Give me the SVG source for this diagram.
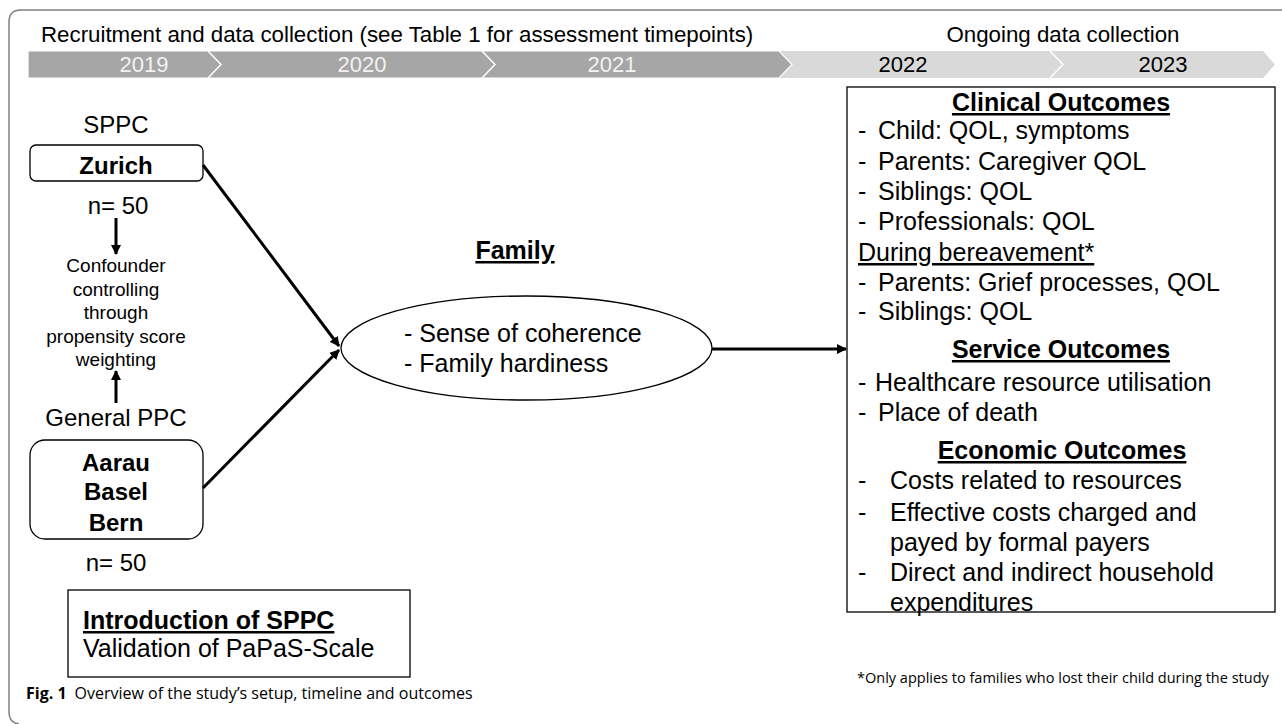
<svg xmlns="http://www.w3.org/2000/svg" width="1282" height="724" viewBox="0 0 1282 724">
<style>
  text { font-family: "Liberation Sans", Arial, sans-serif; fill: #000; }
  .hdr { font-size: 22.3px; }
  .yr { font-size: 22px; }
  .yw { fill: #f2f2f2; }
  .b24 { font-size: 24px; font-weight: bold; }
  .r24 { font-size: 24px; }
  .r19 { font-size: 19px; }
  .r25 { font-size: 25px; }
  .b25 { font-size: 25px; font-weight: bold; }
  .ul { text-decoration: underline; }
  .box { fill: #fff; stroke: #000; stroke-width: 1.3; }
  .con { stroke: #000; stroke-width: 3; fill: none; }
  .cap { font-family: "Open Sans", "Noto Sans", sans-serif; font-size: 16px; }
  .fn { font-family: "Open Sans", "Noto Sans", sans-serif; font-size: 14.5px; }
</style>
<defs>
  <marker id="ah" viewBox="0 0 10 10" refX="9" refY="5" markerWidth="10" markerHeight="10" markerUnits="userSpaceOnUse" orient="auto">
    <path d="M0,0 L10,5 L0,10 z" fill="#000"/>
  </marker>
</defs>
<rect width="1282" height="724" fill="#fff"/>
<path d="M1282 10 H21 Q9 10 9 22 V712 Q9 723 19 724" fill="none" stroke="#808080" stroke-width="1.5"/>

<g id="timeline">
  <text class="hdr" x="41" y="42">Recruitment and data collection (see Table 1 for assessment timepoints)</text>
  <text class="hdr" x="1063" y="42" text-anchor="middle">Ongoing data collection</text>
  <polygon points="28,51 1263,51 1275,64.5 1263,78 28,78" fill="#d9d9d9"/>
  <polygon points="28,51 779,51 792,64.5 779,78 28,78" fill="#a6a6a6" stroke="#fff" stroke-width="1.2"/>
  <polyline points="208,51 221,64.5 208,78" fill="none" stroke="#fff" stroke-width="1.5"/>
  <polyline points="482,51 495,64.5 482,78" fill="none" stroke="#fff" stroke-width="1.5"/>
  <polyline points="1050,51 1063,64.5 1050,78" fill="none" stroke="#fff" stroke-width="1.5"/>
  <text class="yr yw" x="144" y="72" text-anchor="middle">2019</text>
  <text class="yr yw" x="362" y="72" text-anchor="middle">2020</text>
  <text class="yr yw" x="612" y="72" text-anchor="middle">2021</text>
  <text class="yr" x="903" y="72" text-anchor="middle">2022</text>
  <text class="yr" x="1163" y="72" text-anchor="middle">2023</text>
</g>

<g id="sppc">
  <text class="r24" x="116" y="133" text-anchor="middle">SPPC</text>
  <rect class="box" x="30" y="145" width="173" height="36" rx="6"/>
  <text class="b24" x="116" y="174" text-anchor="middle">Zurich</text>
  <text class="r24" x="118" y="214" text-anchor="middle">n= 50</text>
</g>

<g id="confounder">
  <text class="r19" x="116" y="272" text-anchor="middle">Confounder</text>
  <text class="r19" x="116" y="296" text-anchor="middle">controlling</text>
  <text class="r19" x="116" y="319" text-anchor="middle">through</text>
  <text class="r19" x="116" y="343" text-anchor="middle">propensity score</text>
  <text class="r19" x="116" y="366" text-anchor="middle">weighting</text>
</g>

<g id="general-ppc">
  <text class="r24" x="116" y="426" text-anchor="middle">General PPC</text>
  <rect class="box" x="30" y="440" width="173" height="99" rx="15"/>
  <text class="b24" x="116" y="471" text-anchor="middle">Aarau</text>
  <text class="b24" x="116" y="500" text-anchor="middle">Basel</text>
  <text class="b24" x="116" y="531" text-anchor="middle">Bern</text>
  <text class="r24" x="116" y="571" text-anchor="middle">n= 50</text>
</g>

<g id="intro">
  <rect class="box" x="68" y="590" width="342" height="87"/>
  <text class="b25 ul" x="83" y="629">Introduction of SPPC</text>
  <text class="r25" x="83" y="657">Validation of PaPaS-Scale</text>
</g>

<g id="family">
  <text class="b25 ul" x="515" y="259" text-anchor="middle">Family</text>
  <ellipse cx="526.5" cy="348" rx="185.5" ry="52" fill="#fff" stroke="#000" stroke-width="1.3"/>
  <text class="r25" x="404" y="342">- Sense of coherence</text>
  <text class="r25" x="404" y="372">- Family hardiness</text>
</g>

<g id="outcomes">
  <rect class="box" x="847" y="87" width="428" height="525"/>
  <text class="b25 ul" x="1061" y="111" text-anchor="middle">Clinical Outcomes</text>
  <text class="r25" y="139"><tspan x="858">-</tspan><tspan x="878">Child: QOL, symptoms</tspan></text>
  <text class="r25" y="170"><tspan x="858">-</tspan><tspan x="878">Parents: Caregiver QOL</tspan></text>
  <text class="r25" y="200"><tspan x="858">-</tspan><tspan x="878">Siblings: QOL</tspan></text>
  <text class="r25" y="230"><tspan x="858">-</tspan><tspan x="878">Professionals: QOL</tspan></text>
  <text class="r25 ul" x="858" y="261">During bereavement*</text>
  <text class="r25" y="291"><tspan x="858">-</tspan><tspan x="878">Parents: Grief processes, QOL</tspan></text>
  <text class="r25" y="320"><tspan x="858">-</tspan><tspan x="878">Siblings: QOL</tspan></text>
  <text class="b25 ul" x="1061" y="358" text-anchor="middle">Service Outcomes</text>
  <text class="r25" y="391"><tspan x="858">-</tspan><tspan x="875">Healthcare resource utilisation</tspan></text>
  <text class="r25" y="421"><tspan x="858">-</tspan><tspan x="878">Place of death</tspan></text>
  <text class="b25 ul" x="1062" y="459" text-anchor="middle">Economic Outcomes</text>
  <text class="r25" y="489"><tspan x="858">-</tspan><tspan x="890">Costs related to resources</tspan></text>
  <text class="r25" y="521"><tspan x="858">-</tspan><tspan x="890">Effective costs charged and</tspan></text>
  <text class="r25" x="890" y="551">payed by formal payers</text>
  <text class="r25" y="581"><tspan x="858">-</tspan><tspan x="890">Direct and indirect household</tspan></text>
  <text class="r25" x="890" y="611">expenditures</text>
</g>

<g id="connectors">
  <line class="con" x1="203" y1="165" x2="339" y2="346" marker-end="url(#ah)"/>
  <line class="con" x1="203" y1="488" x2="339" y2="350" marker-end="url(#ah)"/>
  <line class="con" x1="712" y1="349" x2="846" y2="349" marker-end="url(#ah)"/>
  <line class="con" x1="116" y1="218" x2="116" y2="254" marker-end="url(#ah)"/>
  <line class="con" x1="116" y1="403" x2="116" y2="371" marker-end="url(#ah)"/>
</g>

<text class="fn" x="857" y="683">*Only applies to families who lost their child during the study</text>
<text class="cap" x="26" y="699"><tspan font-weight="bold">Fig. 1</tspan><tspan dx="8">Overview of the study’s setup, timeline and outcomes</tspan></text>
</svg>
